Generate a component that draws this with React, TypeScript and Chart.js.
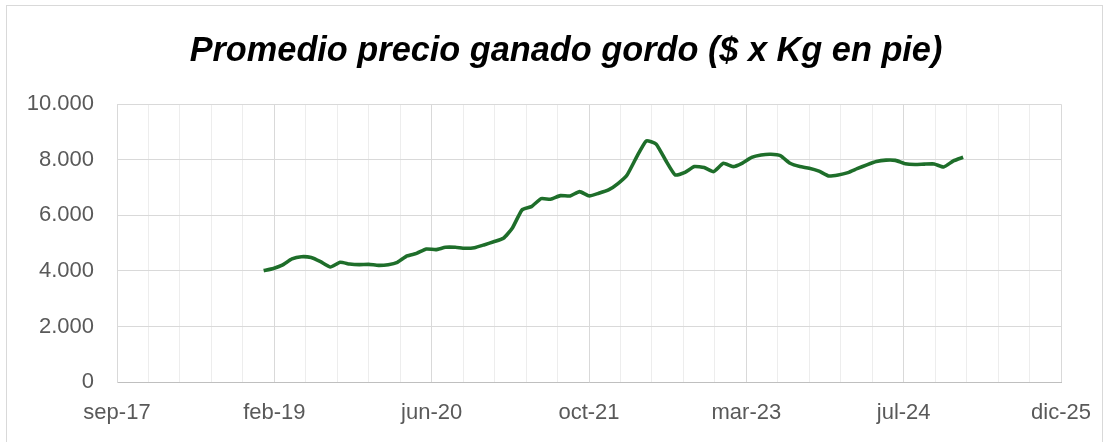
import { useEffect, useRef } from "react";
import { Chart, registerables } from "chart.js";

Chart.register(...registerables);

const TITLE = "Promedio precio ganado gordo ($ x Kg en pie)";

const MONTHS = [
  "2019-01", "2019-02", "2019-03", "2019-04", "2019-05", "2019-06", "2019-07", "2019-08", "2019-09", "2019-10", "2019-11", "2019-12",
  "2020-01", "2020-02", "2020-03", "2020-04", "2020-05", "2020-06", "2020-07", "2020-08", "2020-09", "2020-10", "2020-11", "2020-12",
  "2021-01", "2021-02", "2021-03", "2021-04", "2021-05", "2021-06", "2021-07", "2021-08", "2021-09", "2021-10", "2021-11", "2021-12",
  "2022-01", "2022-02", "2022-03", "2022-04", "2022-05", "2022-06", "2022-07", "2022-08", "2022-09", "2022-10", "2022-11", "2022-12",
  "2023-01", "2023-02", "2023-03", "2023-04", "2023-05", "2023-06", "2023-07", "2023-08", "2023-09", "2023-10", "2023-11", "2023-12",
  "2024-01", "2024-02", "2024-03", "2024-04", "2024-05", "2024-06", "2024-07", "2024-08", "2024-09", "2024-10", "2024-11", "2024-12",
  "2025-01", "2025-02",
];

const PRICES = [
  4010, 4090, 4210, 4430, 4510, 4480, 4330, 4140, 4310, 4250, 4225, 4235,
  4200, 4225, 4310, 4540, 4630, 4790, 4765, 4850, 4850, 4815, 4835, 4935,
  5050, 5175, 5535, 6195, 6315, 6600, 6580, 6710, 6700, 6855, 6700, 6795,
  6915, 7155, 7455, 8115, 8680, 8570, 7995, 7455, 7550, 7755, 7720, 7575,
  7875, 7755, 7875, 8090, 8175, 8200, 8150, 7875, 7755, 7700, 7590, 7420,
  7455, 7540, 7680, 7820, 7940, 7990, 7980, 7860, 7830, 7845, 7850, 7740,
  7960, 8090,
];

// Excel date-axis bounds (serial days): sep-17 .. dic-25, major every 500 days
const X_MIN = 43000;
const X_MAX = 46000;
const X_MAJOR = 500;
const X_MINOR = 100;

const Y_MIN = 0;
const Y_MAX = 10000;
const Y_STEP = 2000;

const MES = ["ene", "feb", "mar", "abr", "may", "jun", "jul", "ago", "sep", "oct", "nov", "dic"];

const EXCEL_EPOCH = Date.UTC(1899, 11, 30);

function toSerial(ym: string): number {
  const [y, m] = ym.split("-").map(Number);
  return Math.round((Date.UTC(y, m - 1, 1) - EXCEL_EPOCH) / 86400000);
}

function serialLabel(s: number): string {
  const d = new Date(EXCEL_EPOCH + s * 86400000);
  return MES[d.getUTCMonth()] + "-" + String(d.getUTCFullYear() % 100).padStart(2, "0");
}

function fmtThousands(v: number): string {
  return String(Math.round(v)).replace(/\B(?=(\d{3})+(?!\d))/g, ".");
}

const titleShift = {
  id: "titleShift",
  afterLayout(chart: any) {
    const tb = chart.titleBlock;
    if (tb) {
      tb.left = 20;
      tb.right = 1112;
    }
  },
};

export default function App() {
  const ref = useRef<HTMLCanvasElement | null>(null);

  useEffect(() => {
    if (!ref.current) return;
    const points = MONTHS.map((m, i) => ({ x: toSerial(m), y: PRICES[i] }));
    const tickFont = { family: "'Liberation Sans', Arial, sans-serif", size: 22 };
    const chart = new Chart(ref.current, {
      type: "line",
      data: {
        datasets: [
          {
            data: points,
            borderColor: "#1E6E2A",
            borderWidth: 3.6,
            pointRadius: 0,
            pointHoverRadius: 0,
            tension: 0.15,
            fill: false,
          },
        ],
      },
      plugins: [titleShift],
      options: {
        responsive: false,
        animation: false,
        layout: { padding: { left: 10, right: 51, top: 0, bottom: 0 } },
        plugins: {
          legend: { display: false },
          tooltip: { enabled: false },
          title: {
            display: true,
            text: TITLE,
            color: "#000000",
            font: { family: "'Liberation Sans', Arial, sans-serif", size: 34.3, weight: "bold", style: "italic" },
            padding: { top: 31.4, bottom: 31.7 },
          },
        },
        scales: {
          x: {
            type: "linear",
            min: X_MIN,
            max: X_MAX,
            afterFit: (scale: any) => {
              scale.height = 60;
            },
            afterBuildTicks: (scale: any) => {
              const t = [];
              for (let v = X_MIN; v <= X_MAX; v += X_MINOR) t.push({ value: v });
              scale.ticks = t;
            },
            ticks: {
              autoSkip: false,
              maxRotation: 0,
              minRotation: 0,
              padding: 18,
              color: "#595959",
              font: tickFont,
              callback: (v: any) => ((Number(v) - X_MIN) % X_MAJOR === 0 ? serialLabel(Number(v)) : ""),
            },
            grid: {
              drawTicks: false,
              color: (ctx: any) =>
                ctx.tick && (ctx.tick.value - X_MIN) % X_MAJOR === 0 ? "#D9D9D9" : "#EDEDED",
              lineWidth: 1,
            },
            border: { display: true, color: "#BFBFBF", width: 1 },
          },
          y: {
            min: Y_MIN,
            max: Y_MAX,
            afterFit: (scale: any) => {
              scale.width = 107;
            },
            ticks: {
              stepSize: Y_STEP,
              padding: 23,
              color: "#595959",
              font: tickFont,
              callback: (v: any) => fmtThousands(Number(v)),
            },
            grid: { drawTicks: false, color: "#D9D9D9", lineWidth: 1 },
            border: { display: true, color: "#D9D9D9", width: 1 },
          },
        },
      },
    } as any);
    return () => chart.destroy();
  }, []);

  return (
    <div style={{ position: "fixed", left: 0, top: 0, width: 1112, height: 442, background: "#FFFFFF", overflow: "hidden" }}>
      <div
        style={{
          position: "absolute",
          left: 6,
          top: 5,
          width: 1097,
          height: 460,
          border: "1px solid #D9D9D9",
          boxSizing: "border-box",
        }}
      />
      <canvas ref={ref} width={1112} height={442} style={{ position: "absolute", left: 0, top: 0, width: 1112, height: 442 }} />
    </div>
  );
}
